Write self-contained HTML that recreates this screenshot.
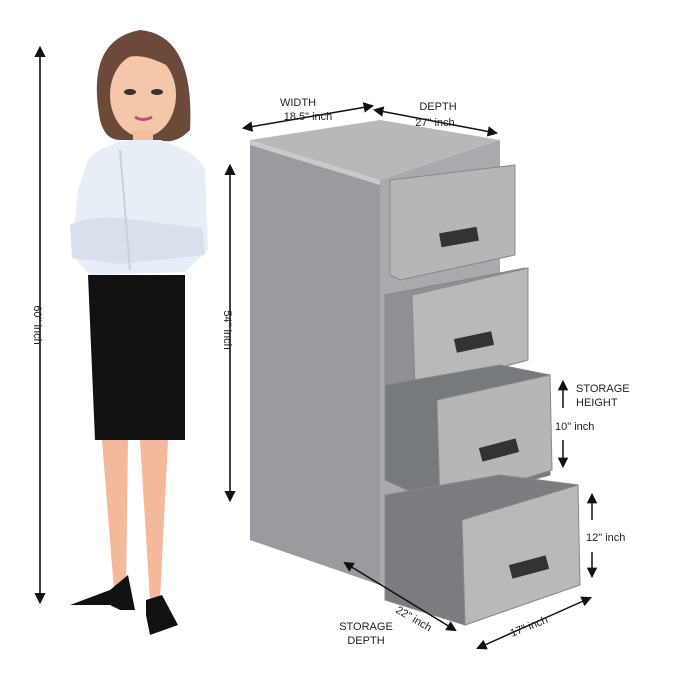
<!DOCTYPE html>
<html><head><style>body{margin:0;background:#fff}svg{display:block}text{font-family:"Liberation Sans",sans-serif;fill:#222}</style></head><body>
<svg width="679" height="679" viewBox="0 0 679 679" xmlns="http://www.w3.org/2000/svg">
<defs><marker id="a" viewBox="0 0 10 10" refX="8" refY="5" markerWidth="7" markerHeight="7" orient="auto-start-reverse"><path d="M0,0L10,5L0,10z" fill="#111"/></marker></defs>
<rect width="679" height="679" fill="#fff"/>
<line x1="40" y1="48" x2="40" y2="602" stroke="#111" stroke-width="1.6" marker-start="url(#a)" marker-end="url(#a)"/>
<text transform="translate(34,325) rotate(90)" font-size="11" text-anchor="middle">60" inch</text>
<line x1="230" y1="166" x2="230" y2="500" stroke="#111" stroke-width="1.6" marker-start="url(#a)" marker-end="url(#a)"/>
<text transform="translate(224,330) rotate(90)" font-size="11" text-anchor="middle">54" inch</text>
<!-- woman -->
<path d="M100,120 Q85,40 140,30 Q195,35 190,130 Q175,145 160,140 L120,140 Q105,140 100,120z" fill="#6b4a3a"/>
<ellipse cx="143" cy="95" rx="33" ry="42" fill="#f4c7a8"/>
<path d="M108,75 Q125,40 175,70 Q160,50 140,45 Q115,50 108,75z" fill="#6b4a3a"/>
<ellipse cx="130" cy="92" rx="6" ry="3" fill="#333"/><ellipse cx="157" cy="92" rx="6" ry="3" fill="#333"/>
<path d="M135,117 Q143,122 152,117" stroke="#c0506a" stroke-width="3" fill="none"/>
<rect x="133" y="130" width="20" height="20" fill="#f0c0a0"/>
<path d="M88,160 Q100,145 130,140 L155,140 Q195,148 205,170 L208,250 L185,272 L90,275 L72,255 L78,190z" fill="#e8eef5"/>
<path d="M70,225 Q95,212 150,222 L202,228 L205,255 L120,264 L72,258z" fill="#d8e0ec"/>
<path d="M120,150 L130,270" stroke="#c8d0dc" stroke-width="2"/>
<path d="M88,275 L185,275 L185,440 L95,440z" fill="#111"/>
<path d="M102,440 L128,440 L126,590 L114,590z" fill="#f4b89a"/>
<path d="M140,440 L168,440 L160,600 L150,600z" fill="#f4b89a"/>
<path d="M70,605 L110,590 L128,575 L135,610 L120,610 L110,605z" fill="#111"/>
<path d="M146,600 L162,595 L178,625 L150,635 L146,615z" fill="#111"/>
<!-- cabinet -->
<polygon points="250,140 380,180 380,585 250,540" fill="#9a9b9e"/>
<polygon points="250,140 380,120 500,140 380,180" fill="#b7b8ba"/>
<polygon points="380,180 500,140 500,585 380,585" fill="#a9aaad"/>
<polygon points="250,140 380,180 380,185 250,145" fill="#c8c9cb"/>
<g stroke="#888" stroke-width="1">
<polygon points="390,180 515,165 515,255 400,280 390,275" fill="#b5b6b8"/>
<polygon points="385,295 525,268 528,360 415,390 385,385" fill="#8f9093"/>
<polygon points="412,295 528,268 528,360 415,390" fill="#b8b9bb"/>
<polygon points="385,385 500,365 550,375 550,475 440,505 385,480" fill="#777a7d"/>
<polygon points="437,400 550,375 552,470 440,505" fill="#b5b6b8"/>
<polygon points="385,495 500,475 578,485 578,585 465,625 385,600" fill="#7a7c80"/>
<polygon points="462,520 578,485 580,585 465,625" fill="#b8b9bb"/>
</g>
<rect x="440" y="230" width="38" height="14" fill="#333" transform="rotate(-10 459 237)"/>
<rect x="455" y="335" width="38" height="14" fill="#333" transform="rotate(-12 474 342)"/>
<rect x="480" y="443" width="38" height="14" fill="#333" transform="rotate(-15 499 450)"/>
<rect x="510" y="560" width="38" height="14" fill="#333" transform="rotate(-15 529 567)"/>
<line x1="244" y1="128" x2="372" y2="106" stroke="#111" stroke-width="1.5" marker-start="url(#a)" marker-end="url(#a)"/>
<text x="298" y="106" font-size="11" text-anchor="middle">WIDTH</text>
<text x="308" y="120" font-size="11" text-anchor="middle">18.5" inch</text>
<line x1="375" y1="110" x2="496" y2="133" stroke="#111" stroke-width="1.5" marker-start="url(#a)" marker-end="url(#a)"/>
<text x="438" y="110" font-size="11" text-anchor="middle">DEPTH</text>
<text x="435" y="126" font-size="11" text-anchor="middle">27" inch</text>
<text x="576" y="392" font-size="11">STORAGE</text>
<text x="576" y="406" font-size="11">HEIGHT</text>
<line x1="563" y1="382" x2="563" y2="408" stroke="#111" stroke-width="1.5" marker-start="url(#a)"/>
<text x="555" y="430" font-size="11">10" inch</text>
<line x1="563" y1="440" x2="563" y2="466" stroke="#111" stroke-width="1.5" marker-end="url(#a)"/>
<line x1="592" y1="495" x2="592" y2="520" stroke="#111" stroke-width="1.5" marker-start="url(#a)"/>
<text x="586" y="541" font-size="11">12" inch</text>
<line x1="592" y1="552" x2="592" y2="576" stroke="#111" stroke-width="1.5" marker-end="url(#a)"/>
<line x1="345" y1="563" x2="455" y2="630" stroke="#111" stroke-width="1.5" marker-start="url(#a)" marker-end="url(#a)"/>
<text transform="translate(395,612) rotate(30)" font-size="11">22" inch</text>
<text x="366" y="630" font-size="11" text-anchor="middle">STORAGE</text>
<text x="366" y="644" font-size="11" text-anchor="middle">DEPTH</text>
<line x1="478" y1="648" x2="590" y2="598" stroke="#111" stroke-width="1.5" marker-start="url(#a)" marker-end="url(#a)"/>
<text transform="translate(512,637) rotate(-22)" font-size="11">17" inch</text>
</svg>
</body></html>
